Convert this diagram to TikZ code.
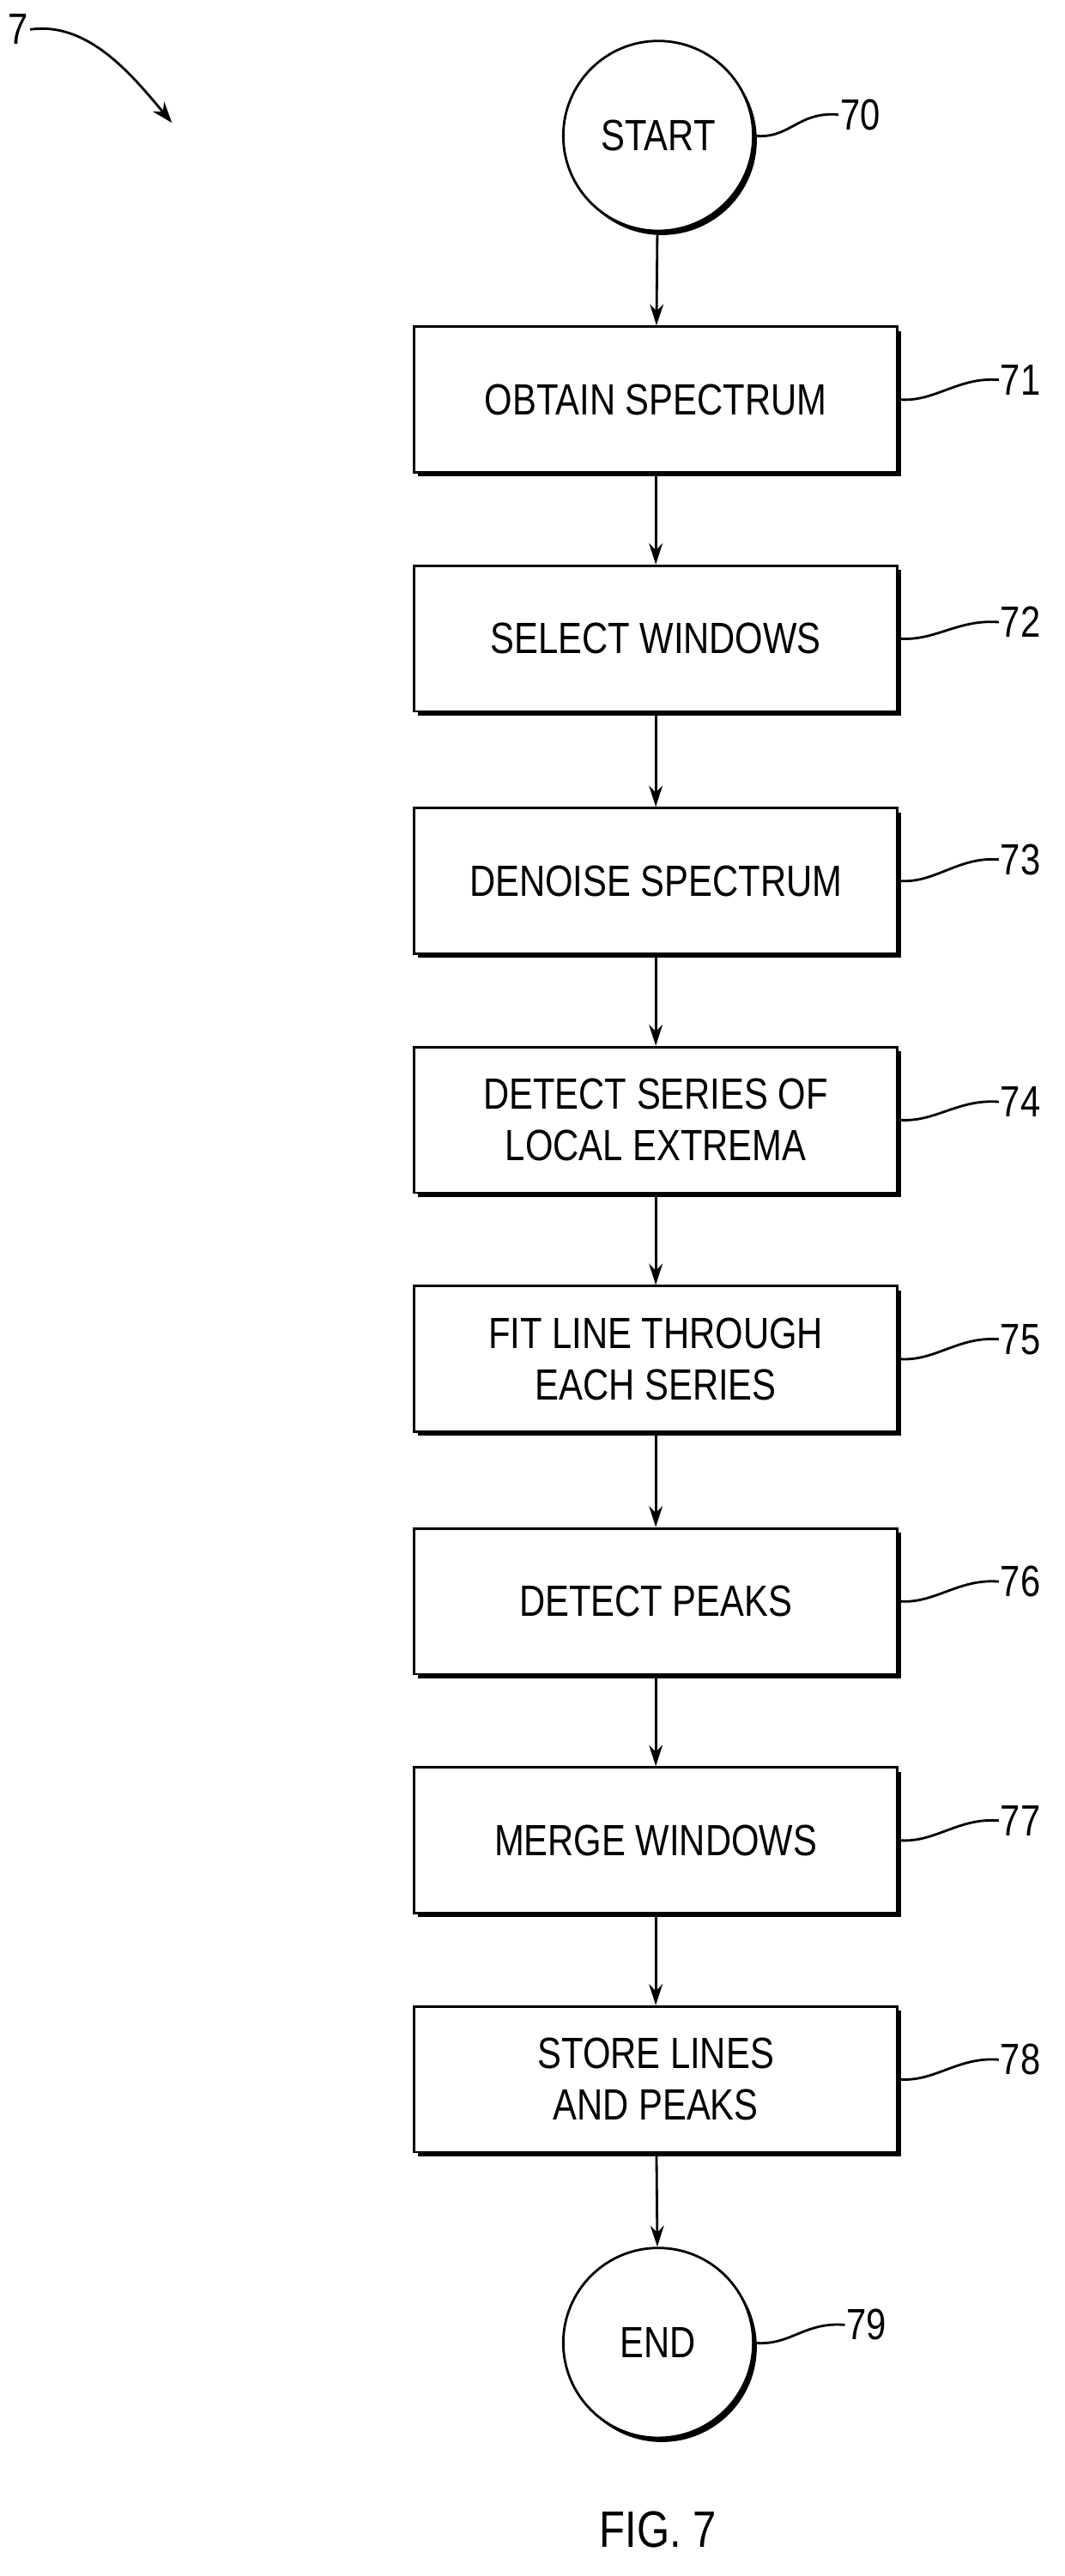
\documentclass[tikz,border=0pt]{standalone}
\usepackage{fontspec}
\setmainfont{Liberation Sans}[FakeStretch=0.82]
\usetikzlibrary{arrows.meta}
\begin{document}
\begin{tikzpicture}[x=0.03816cm,y=-0.03816cm,
  every node/.style={font=\fontsize{29}{34}\selectfont},
  box/.style={draw,line width=1.6pt,fill=white,minimum width=295*0.03816cm,minimum height=89*0.03816cm,align=center,
     preaction={fill=black,transform canvas={shift={(2.6pt,-2.8pt)}}}},
  term/.style={draw,circle,line width=1.6pt,fill=white,minimum size=116*0.03816cm,
     preaction={fill=black,transform canvas={shift={(2.4pt,-2.8pt)}}}},
  arr/.style={line width=1.6pt,-{Stealth[length=14pt,width=9pt]}},
  lead/.style={line width=1.6pt},
  lab/.style={anchor=west,inner sep=1pt}]
\useasboundingbox (0,0) rectangle (650,1573.4);
\node[term] (s) at (402,83) {START};
\node[box] (b71) at (400.5,244) {OBTAIN SPECTRUM};
\node[box] (b72) at (400.5,390) {SELECT WINDOWS};
\node[box] (b73) at (400.5,538) {DENOISE SPECTRUM};
\node[box] (b74) at (400.5,684) {DETECT SERIES OF\\LOCAL EXTREMA};
\node[box] (b75) at (400.5,830) {FIT LINE THROUGH\\EACH SERIES};
\node[box] (b76) at (400.5,978) {DETECT PEAKS};
\node[box] (b77) at (400.5,1124) {MERGE WINDOWS};
\node[box] (b78) at (400.5,1270) {STORE LINES\\AND PEAKS};
\node[term] (e) at (402,1431) {END};
\draw[arr] (s) -- (b71);
\draw[arr] (b71) -- (b72);
\draw[arr] (b72) -- (b73);
\draw[arr] (b73) -- (b74);
\draw[arr] (b74) -- (b75);
\draw[arr] (b75) -- (b76);
\draw[arr] (b76) -- (b77);
\draw[arr] (b77) -- (b78);
\draw[arr] (b78) -- (e);
\node[lab] (l70) at (512,70) {70};
\draw[lead] (s.east) .. controls +(22,2) and +(-25,-2) .. (l70.west);
\foreach \n/\y in {71/232,72/380,73/525,74/673,75/818,76/966,77/1112,78/1258}{
  \node[lab] (l\n) at (610,\y) {\n};
  \draw[lead] (b\n.east) .. controls +(22,2) and +(-25,-2) .. (l\n.west);
}
\node[lab] (l79) at (516,1420) {79};
\draw[lead] (e.east) .. controls +(22,2) and +(-25,-2) .. (l79.west);
\node[lab] (l7) at (4,18) {7};
\coordinate (t7) at (105,75);
\draw[lead,-{Stealth[length=14pt,width=10pt]}] (l7.east) .. controls +(35,-5) and +(-25,-30) .. (t7);
\node[font=\fontsize{34}{40}\selectfont] (fig) at (402,1545) {FIG. 7};
\end{tikzpicture}
\end{document}
